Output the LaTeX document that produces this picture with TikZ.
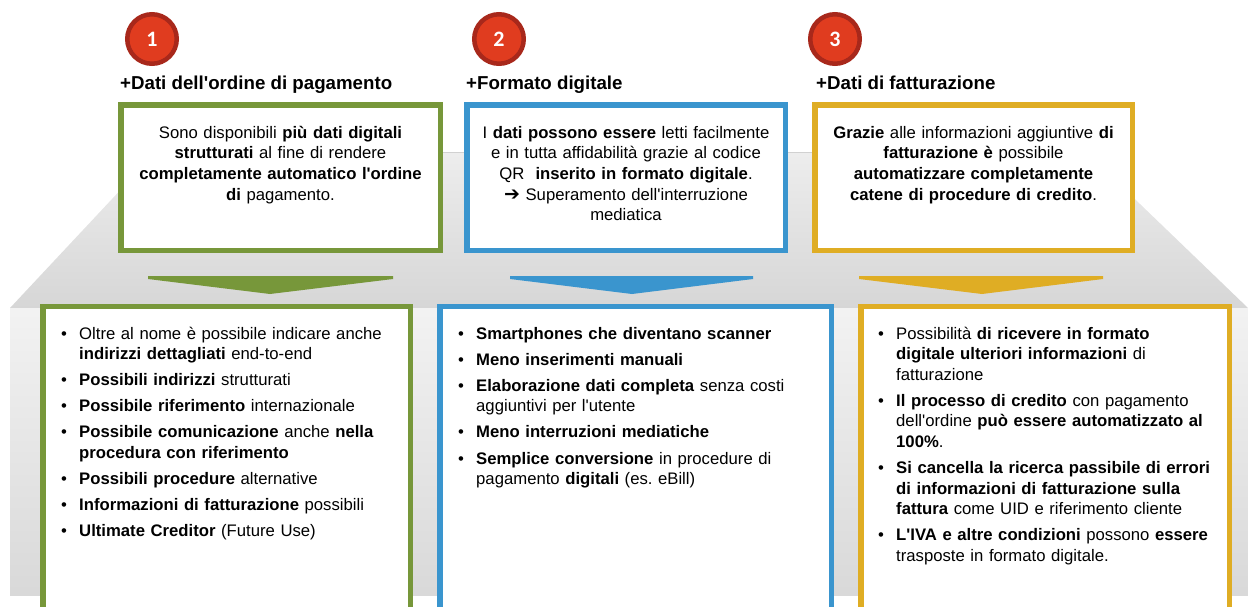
\documentclass[tikz,border=0pt]{standalone}
\usepackage{fontspec}
\setmainfont{Liberation Sans}
\newfontfamily\numfont{Carlito}
\newfontfamily\symfont{DejaVu Sans}
\usetikzlibrary{shadows}
\definecolor{cgreen}{HTML}{77973A}
\definecolor{cblue}{HTML}{3A95CE}
\definecolor{cyellow}{HTML}{DFAD24}
\definecolor{cred}{HTML}{E03C1F}
\definecolor{cdred}{HTML}{A8281B}
\newcommand\ap{\textquotesingle}
\newcommand\bulx[1]{\hangindent=18pt\hangafter=1\makebox[18pt][l]{•}#1}
\newcommand\bul[1]{\par\noindent\bulx{#1}}
\tikzset{
  boxframe/.style={draw=#1, line width=5.5pt, fill=white, rectangle, inner sep=0,
    drop shadow={shadow xshift=3pt, shadow yshift=-3pt, opacity=0.35, fill=black!70}},
  badge/.style={circle, fill=cred, draw=cdred, line width=4.5pt, minimum size=49.5pt, inner sep=0,
    text=white, font=\numfont\bfseries\fontsize{22}{22}\selectfont},
  heading/.style={anchor=base west, inner sep=0, font=\bfseries\fontsize{18.7}{20}\selectfont},
  toptext/.style={anchor=base, inner sep=0, text width=318pt, align=center, font=\fontsize{16.7}{20.7}\selectfont},
  listtext/.style={anchor=base west, inner sep=0, text width=345pt, font=\fontsize{16.7}{20.6}\selectfont},
  flatarrow/.style={fill=#1}
}
\begin{document}
\begin{tikzpicture}[x=1pt, y=-1pt]
\useasboundingbox (0,0) rectangle (1248,606);
\clip (0,0) rectangle (1248,606);
% platform
\shade[top color=black!7, bottom color=black!16] (156,152) -- (1086,152) -- (1248,308) -- (10,308) -- cycle;
\draw[black!18, line width=0.8pt] (156,152) -- (1086,152);
\shade[top color=black!5, bottom color=black!15] (10,308) rectangle (1248,595);
% flat arrows
\fill[flatarrow=cgreen] (148,276) -- (393,276) -- (393,279) -- (270,294) -- (148,279) -- cycle;
\fill[flatarrow=cblue] (510,276) -- (753,276) -- (753,279) -- (632,294) -- (510,279) -- cycle;
\fill[flatarrow=cyellow] (859,276) -- (1103,276) -- (1103,279) -- (982,294) -- (859,279) -- cycle;
% top boxes
\node[boxframe=cgreen, minimum width=319.5pt, minimum height=145.5pt] (t1) at (280.5,177.5) {};
\node[boxframe=cblue, minimum width=318.5pt, minimum height=145.5pt] (t2) at (626,177.5) {};
\node[boxframe=cyellow, minimum width=317.5pt, minimum height=145.5pt] (t3) at (973.5,177.5) {};
% bottom boxes
\node[boxframe=cgreen, minimum width=367.5pt, minimum height=320pt] (b1) at (226.5,466.5) {};
\node[boxframe=cblue, minimum width=391.5pt, minimum height=320pt] (b2) at (635.5,466.5) {};
\node[boxframe=cyellow, minimum width=368.5pt, minimum height=320pt] (b3) at (1045,466.5) {};
% badges
\node[badge] (n1) at (152,39) {1};
\node[badge] (n2) at (499,39) {2};
\node[badge] (n3) at (835,39) {3};
% headings
\node[heading] (h1) at (120,89) {+Dati dell\ap ordine di pagamento};
\node[heading] (h2) at (466,89) {+Formato digitale};
\node[heading] (h3) at (816,89) {+Dati di fatturazione};
% top texts
\node[toptext] (x1) at (280.5,138) {Sono disponibili \textbf{più dati digitali}\\ \textbf{strutturati} al fine di rendere\\ \textbf{completamente automatico l\ap ordine}\\ \textbf{di} pagamento.};
\node[toptext] (x2) at (626,138) {I \textbf{dati possono essere} letti facilmente\\ e in tutta affidabilità grazie al codice\\ QR\ \ \textbf{inserito in formato digitale}.\\ {\symfont\fontsize{19}{16}\selectfont ➔} Superamento dell\ap interruzione\\ mediatica};
\node[toptext] (x3) at (973.5,138) {\textbf{Grazie} alle informazioni aggiuntive \textbf{di}\\ \textbf{fatturazione è} possibile\\ \textbf{automatizzare completamente}\\ \textbf{catene di procedure di credito}.};
% lists
\node[listtext] (l1) at (61,339) {\setlength\parskip{5.5pt}\setlength\parindent{0pt}%
\bulx{Oltre al nome è possibile indicare anche\newline \textbf{indirizzi dettagliati} end-to-end}
\bul{\textbf{Possibili indirizzi} strutturati}
\bul{\textbf{Possibile riferimento} internazionale}
\bul{\textbf{Possibile comunicazione} anche \textbf{nella}\newline \textbf{procedura con riferimento}}
\bul{\textbf{Possibili procedure} alternative}
\bul{\textbf{Informazioni di fatturazione} possibili}
\bul{\textbf{Ultimate Creditor} (Future Use)}\par};
\node[listtext] (l2) at (458,339) {\setlength\parskip{5.5pt}\setlength\parindent{0pt}%
\bulx{\textbf{Smartphones che diventano scanner}}
\bul{\textbf{Meno inserimenti manuali}}
\bul{\textbf{Elaborazione dati completa} senza costi\newline aggiuntivi per l\ap utente}
\bul{\textbf{Meno interruzioni mediatiche}}
\bul{\textbf{Semplice conversione} in procedure di\newline pagamento \textbf{digitali} (es.\ eBill)}\par};
\node[listtext] (l3) at (878,339) {\setlength\parskip{5.5pt}\setlength\parindent{0pt}%
\bulx{Possibilità \textbf{di ricevere in formato}\newline \textbf{digitale ulteriori informazioni} di\newline fatturazione}
\bul{\textbf{Il processo di credito} con pagamento\newline dell\ap ordine \textbf{può essere automatizzato al}\newline \textbf{100\%}.}
\bul{\textbf{Si cancella la ricerca passibile di errori}\newline \textbf{di informazioni di fatturazione sulla}\newline \textbf{fattura} come UID e riferimento cliente}
\bul{\textbf{L\ap IVA e altre condizioni} possono \textbf{essere}\newline trasposte in formato digitale.}\par};
\end{tikzpicture}
\end{document}
